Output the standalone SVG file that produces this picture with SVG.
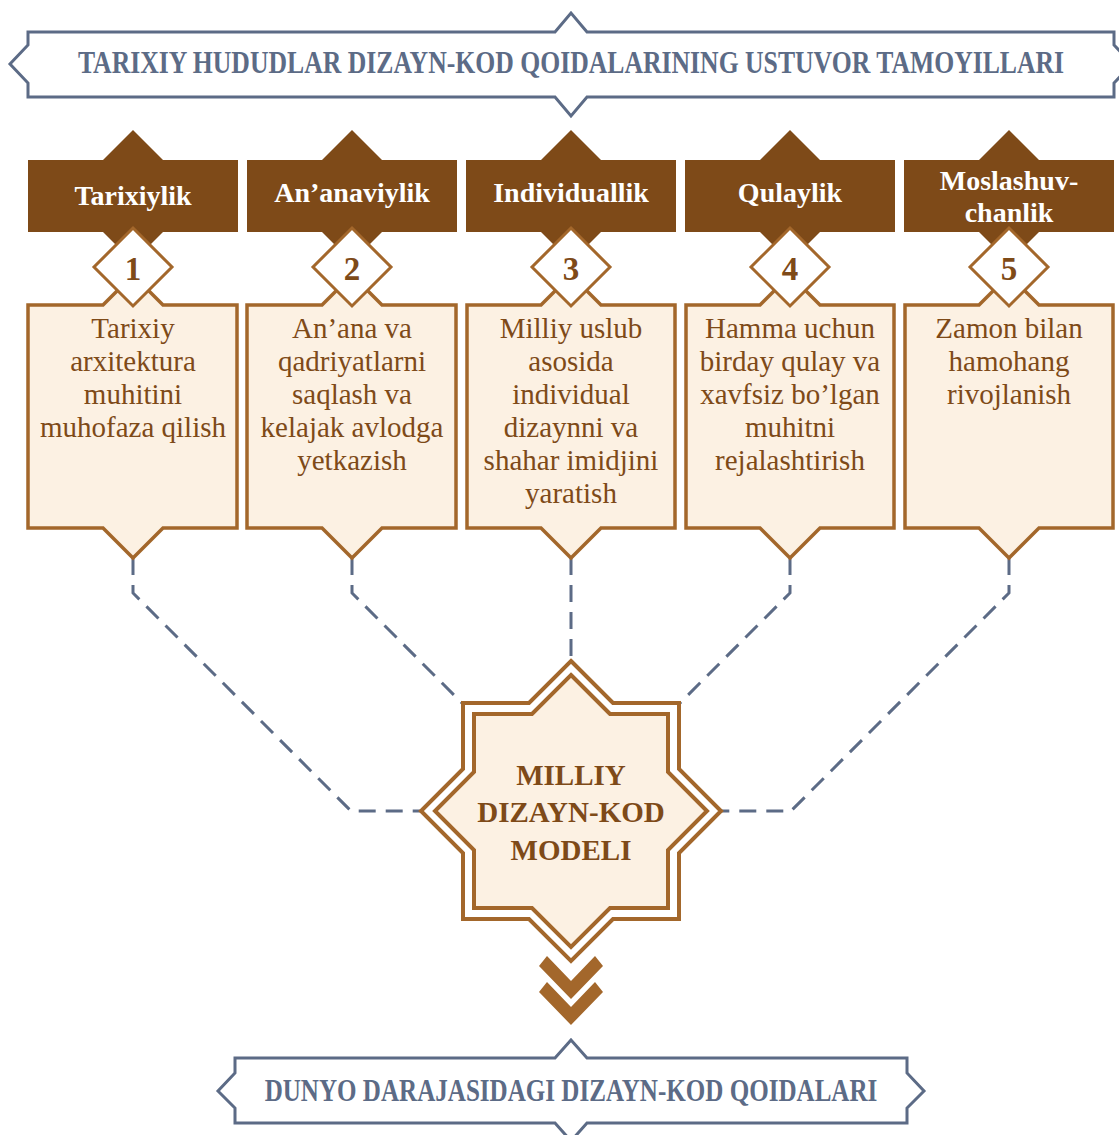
<svg xmlns="http://www.w3.org/2000/svg" width="1119" height="1135" viewBox="0 0 1119 1135">
<style>
.banner{fill:#ffffff;stroke:#5c6b86;stroke-width:3;stroke-linejoin:miter}
.btext{font-family:"Liberation Serif",serif;font-weight:bold;font-size:31px;fill:#5c6b86;text-anchor:middle}
.hdr{fill:#7e4a18}
.htext{font-family:"Liberation Serif",serif;font-weight:bold;font-size:28px;fill:#ffffff;text-anchor:middle}
.box{fill:#fcf1e3;stroke:#a3672b;stroke-width:3.5}
.dia{fill:#ffffff;stroke:#a3672b;stroke-width:3}
.num{font-family:"Liberation Serif",serif;font-weight:bold;font-size:33px;fill:#7e4a18;text-anchor:middle}
.body{font-family:"Liberation Serif",serif;font-size:29px;fill:#7e4a18;text-anchor:middle}
.conn{fill:none;stroke:#5c6b86;stroke-width:3;stroke-dasharray:17 10}
.star-o{fill:#ffffff;stroke:#a3672b;stroke-width:4}
.star-i{fill:#fcf1e3;stroke:#a3672b;stroke-width:4}
.stext{font-family:"Liberation Serif",serif;font-weight:bold;font-size:29px;fill:#7e4a18;text-anchor:middle}
.chev{fill:#a3672b}
</style>

<g id="title-top">
<path class="banner" d="M28,32 H555 L571,13 L587,32 H1114 V45 L1132,64 L1114,83 V97 H587 L571,116 L555,97 H28 V83 L10,64 L28,45 Z"/>
<text class="btext" transform="translate(571,73) scale(0.829,1)" x="0" y="0">TARIXIY HUDUDLAR DIZAYN-KOD QOIDALARINING USTUVOR TAMOYILLARI</text>
</g>

<g id="connectors">
<path class="conn" d="M133,558 V593 L351,811 H420"/>
<path class="conn" d="M352,558 V593 L463,704"/>
<path class="conn" d="M571,558 V661"/>
<path class="conn" d="M790,558 V593 L679,704"/>
<path class="conn" d="M1009,558 V593 L791,811 H722"/>
</g>

<g id="node-1">
<path class="hdr" d="M28,160 H103 L133,130 L163,160 H238 V232 H163 L133,262 L103,232 H28 Z"/>
<text class="htext" x="133" y="205">Tarixiylik</text>
<path class="box" d="M28,305 H103 L133,275 L163,305 H237 V528 H163 L133,558 L103,528 H28 Z"/>
<polygon class="dia" points="133,228 172,267 133,306 94,267"/>
<text class="num" x="133" y="280">1</text>
<text class="body" x="133" y="338">Tarixiy</text>
<text class="body" x="133" y="371">arxitektura</text>
<text class="body" x="133" y="404">muhitini</text>
<text class="body" x="133" y="437">muhofaza qilish</text>
</g>

<g id="node-2">
<path class="hdr" d="M247,160 H322 L352,130 L382,160 H457 V232 H382 L352,262 L322,232 H247 Z"/>
<text class="htext" x="352" y="202">An’anaviylik</text>
<path class="box" d="M247,305 H322 L352,275 L382,305 H456 V528 H382 L352,558 L322,528 H247 Z"/>
<polygon class="dia" points="352,228 391,267 352,306 313,267"/>
<text class="num" x="352" y="280">2</text>
<text class="body" x="352" y="338">An’ana va</text>
<text class="body" x="352" y="371">qadriyatlarni</text>
<text class="body" x="352" y="404">saqlash va</text>
<text class="body" x="352" y="437">kelajak avlodga</text>
<text class="body" x="352" y="470">yetkazish</text>
</g>

<g id="node-3">
<path class="hdr" d="M466,160 H541 L571,130 L601,160 H676 V232 H601 L571,262 L541,232 H466 Z"/>
<text class="htext" x="571" y="202">Individuallik</text>
<path class="box" d="M467,305 H541 L571,275 L601,305 H675 V528 H601 L571,558 L541,528 H467 Z"/>
<polygon class="dia" points="571,228 610,267 571,306 532,267"/>
<text class="num" x="571" y="280">3</text>
<text class="body" x="571" y="338">Milliy uslub</text>
<text class="body" x="571" y="371">asosida</text>
<text class="body" x="571" y="404">individual</text>
<text class="body" x="571" y="437">dizaynni va</text>
<text class="body" x="571" y="470">shahar imidjini</text>
<text class="body" x="571" y="503">yaratish</text>
</g>

<g id="node-4">
<path class="hdr" d="M685,160 H760 L790,130 L820,160 H895 V232 H820 L790,262 L760,232 H685 Z"/>
<text class="htext" x="790" y="202">Qulaylik</text>
<path class="box" d="M686,305 H760 L790,275 L820,305 H894 V528 H820 L790,558 L760,528 H686 Z"/>
<polygon class="dia" points="790,228 829,267 790,306 751,267"/>
<text class="num" x="790" y="280">4</text>
<text class="body" x="790" y="338">Hamma uchun</text>
<text class="body" x="790" y="371">birday qulay va</text>
<text class="body" x="790" y="404">xavfsiz bo’lgan</text>
<text class="body" x="790" y="437">muhitni</text>
<text class="body" x="790" y="470">rejalashtirish</text>
</g>

<g id="node-5">
<path class="hdr" d="M904,160 H979 L1009,130 L1039,160 H1114 V232 H1039 L1009,262 L979,232 H904 Z"/>
<text class="htext" x="1009" y="190">Moslashuv-</text>
<text class="htext" x="1009" y="222">chanlik</text>
<path class="box" d="M905,305 H979 L1009,275 L1039,305 H1113 V528 H1039 L1009,558 L979,528 H905 Z"/>
<polygon class="dia" points="1009,228 1048,267 1009,306 970,267"/>
<text class="num" x="1009" y="280">5</text>
<text class="body" x="1009" y="338">Zamon bilan</text>
<text class="body" x="1009" y="371">hamohang</text>
<text class="body" x="1009" y="404">rivojlanish</text>
</g>

<g id="model">
<polygon class="star-o" points="571,661 613,703 679,703 679,769 721,811 679,853 679,919 613,919 571,961 529,919 463,919 463,853 421,811 463,769 463,703 529,703"/>
<polygon class="star-i" points="571,675 610,714 668,714 668,772 707,811 668,850 668,908 610,908 571,947 532,908 474,908 474,850 435,811 474,772 474,714 532,714"/>
<text class="stext" x="571" y="785">MILLIY</text>
<text class="stext" x="571" y="822">DIZAYN-KOD</text>
<text class="stext" x="571" y="860">MODELI</text>
</g>

<g id="arrow">
<polygon class="chev" points="539,966 547,956 571,981 595,956 603,966 571,999"/>
<polygon class="chev" points="539,992 547,982 571,1007 595,982 603,992 571,1025"/>
</g>

<g id="title-bottom">
<path class="banner" d="M235,1058 H555 L571,1040 L587,1058 H907 V1073 L924,1091 L907,1108 V1123 H587 L571,1141 L555,1123 H235 V1108 L218,1091 L235,1073 Z"/>
<text class="btext" transform="translate(571,1101) scale(0.809,1)" x="0" y="0">DUNYO DARAJASIDAGI DIZAYN-KOD QOIDALARI</text>
</g>
</svg>
